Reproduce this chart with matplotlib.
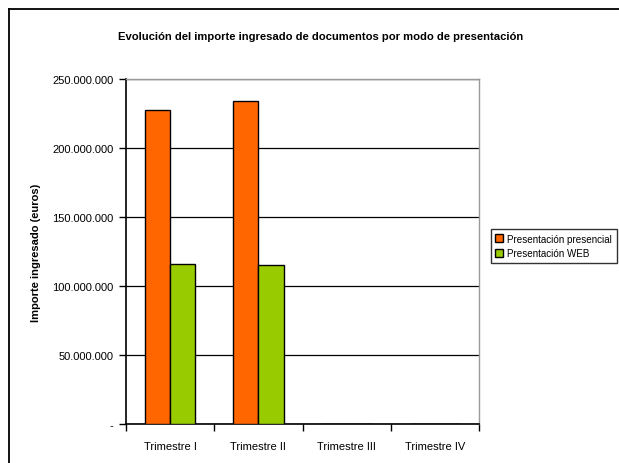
import matplotlib
matplotlib.use('Agg')
import matplotlib.pyplot as plt
from matplotlib.lines import Line2D
from matplotlib.patches import Patch
from matplotlib.ticker import FuncFormatter, FixedLocator

# Data
trimestres = ['Trimestre I', 'Trimestre II', 'Trimestre III', 'Trimestre IV']
presencial = [227600000, 234000000, 0, 0]
web = [116000000, 115400000, 0, 0]
series_names = ['Presentación presencial', 'Presentación WEB']
colors = ['#FF6600', '#99CC00']

plt.rcParams['font.family'] = ['Liberation Sans', 'DejaVu Sans']

fig = plt.figure(figsize=(6.19, 4.64), dpi=100)
ax = fig.add_axes([126/619, 39/464, 353/619, 345/464])

x = list(range(len(trimestres)))
w = 0.286
ax.bar([i - w/2 for i in x], presencial, w, color=colors[0], edgecolor='black', linewidth=1, zorder=3)
ax.bar([i + w/2 for i in x], web, w, color=colors[1], edgecolor='black', linewidth=1, zorder=3)

ax.set_xlim(-0.5, 3.5)
ax.set_ylim(0, 250000000)
ax.set_yticks(range(0, 250000001, 50000000))
ax.yaxis.set_major_formatter(FuncFormatter(
    lambda v, p: '-' if v == 0 else f'{int(v):,}'.replace(',', '.')))
ax.yaxis.grid(True, color='black', linewidth=0.9, zorder=0)
ax.set_axisbelow(True)

ax.set_xticks(x)
ax.set_xticklabels(trimestres, fontsize=8)
ax.xaxis.set_minor_locator(FixedLocator([-0.5, 0.5, 1.5, 2.5, 3.5]))
ax.tick_params(axis='x', which='major', length=0, pad=12)
ax.tick_params(axis='x', which='minor', length=5, width=1, color='black', direction='out')
ax.tick_params(axis='y', length=5, width=1, labelsize=8, direction='out', pad=4)

for s in ['top', 'right']:
    ax.spines[s].set_color('#999999')
    ax.spines[s].set_linewidth(1)
for s in ['left', 'bottom']:
    ax.spines[s].set_color('black')
    ax.spines[s].set_linewidth(1.2)

ax.set_ylabel('Importe ingresado (euros)', fontsize=8, fontweight='bold', labelpad=8)

fig.text(321/619, 1 - 37/464, 'Evolución del importe ingresado de documentos por modo de presentación',
         ha='center', va='center', fontsize=8.1, fontweight='bold')

handles = [Patch(facecolor=c, edgecolor='black', linewidth=1) for c in colors]
leg = fig.legend(handles, series_names, loc='center left',
                 bbox_to_anchor=(491/619, 1 - 247/464), fontsize=7.1,
                 frameon=True, fancybox=False, edgecolor='black',
                 handlelength=0.8, handleheight=0.8, handletextpad=0.4,
                 borderpad=0.45, labelspacing=0.5, borderaxespad=0)
leg.get_frame().set_linewidth(1)

# outer chart frame (cut off right and bottom)
fig.add_artist(Line2D([8.5/619, 8.5/619], [0, 1 - 10/464], color='black', linewidth=1.3, transform=fig.transFigure))
fig.add_artist(Line2D([8.5/619, 1], [1 - 10/464, 1 - 10/464], color='black', linewidth=1.3, transform=fig.transFigure))

fig.savefig('out.png', dpi=100)
